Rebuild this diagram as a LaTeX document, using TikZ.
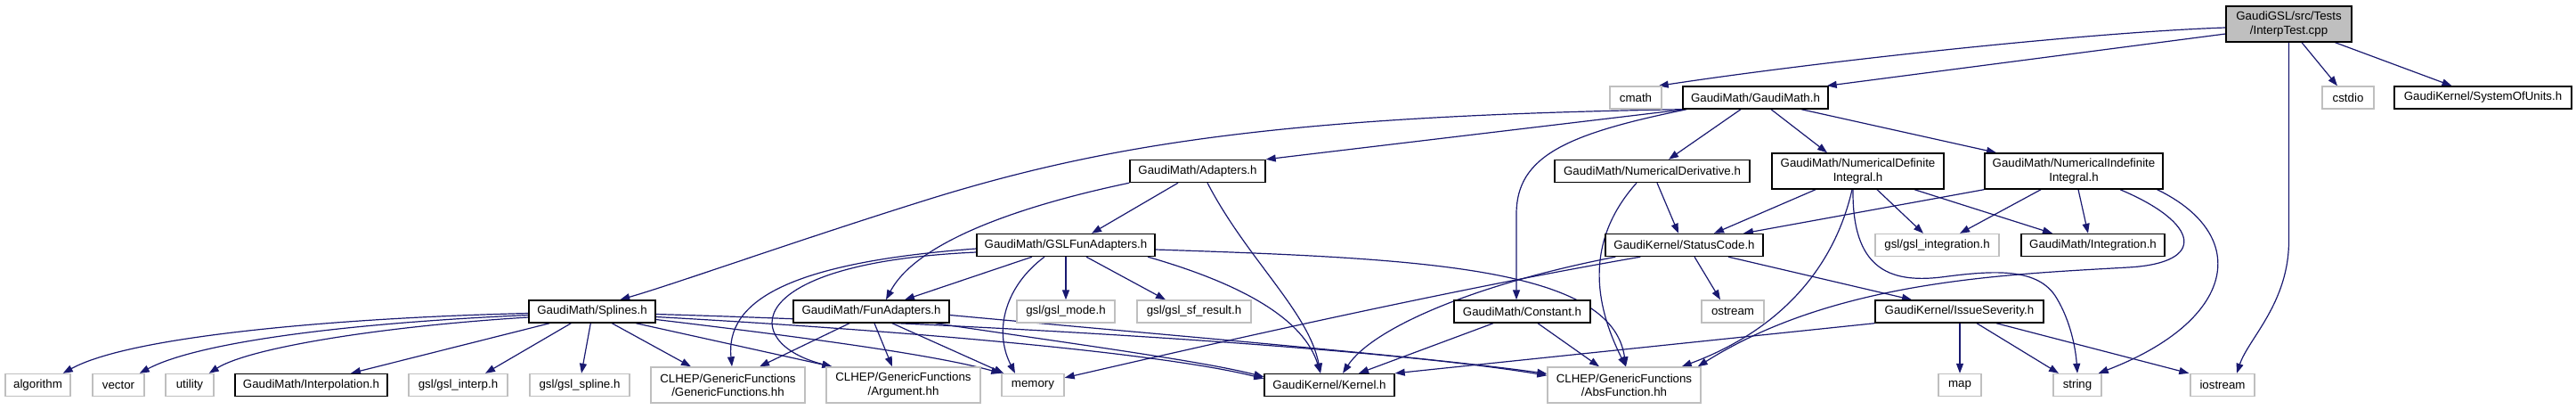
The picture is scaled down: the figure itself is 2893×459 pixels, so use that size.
\documentclass[tikz,border=0pt]{standalone}
\usepackage{fontspec}
\setmainfont{Liberation Sans}
\usetikzlibrary{arrows.meta}
\definecolor{edgec}{HTML}{191970}
\definecolor{grayb}{HTML}{BFBFBF}
\newcommand\labfont{\fontsize{13.3}{15.5}\selectfont}
\pgfdeclarelayer{bg}
\pgfsetlayers{bg,main}
\begin{document}
\begin{tikzpicture}[x=1pt,y=-1pt,
  nd/.style={draw=black, line width=1.4pt, fill=white, inner sep=0pt, font=\labfont, align=center, minimum height=25pt},
  xt/.style={nd, draw=grayb},
  two/.style={minimum height=40pt},
  dep/.style={draw=edgec, line width=1.2pt, -{Triangle[length=11pt,width=8pt]}}
]
\useasboundingbox (0,0) rectangle (2893,459);
% row 0
\node[nd, fill=grayb, two, minimum width=141pt] (top) at (2570.5,27) {GaudiGSL/src/Tests\\/InterpTest.cpp};
% row 1
\node[xt, minimum width=58pt] (cmath) at (1837,109.5) {cmath};
\node[nd, minimum width=163pt] (gm) at (1971.5,109.5) {GaudiMath/GaudiMath.h};
\node[xt, minimum width=58pt] (cstdio) at (2637,109.5) {cstdio};
\node[nd, minimum width=199pt] (sou) at (2788.5,109.5) {GaudiKernel/SystemOfUnits.h};
% row 2
\node[nd, minimum width=152pt] (ad) at (1345,192) {GaudiMath/Adapters.h};
\node[nd, minimum width=219pt] (nder) at (1855.5,192) {GaudiMath/NumericalDerivative.h};
\node[nd, two, minimum width=193pt] (ndi) at (2086.5,192) {GaudiMath/NumericalDefinite\\Integral.h};
\node[nd, two, minimum width=200pt] (nii) at (2329,192) {GaudiMath/NumericalIndefinite\\Integral.h};
% row 3
\node[nd, minimum width=200pt] (gsl) at (1197,275) {GaudiMath/GSLFunAdapters.h};
\node[nd, minimum width=177pt] (sc) at (1891.5,275) {GaudiKernel/StatusCode.h};
\node[xt, minimum width=139pt] (gint) at (2175.5,275) {gsl/gsl\_integration.h};
\node[nd, minimum width=161pt] (integ) at (2350.5,275) {GaudiMath/Integration.h};
% row 4
\node[nd, minimum width=142pt] (spl) at (665,349.5) {GaudiMath/Splines.h};
\node[nd, minimum width=175pt] (fa) at (978.5,349.5) {GaudiMath/FunAdapters.h};
\node[xt, minimum width=110pt] (gmode) at (1197,349.5) {gsl/gsl\_mode.h};
\node[xt, minimum width=128pt] (gsf) at (1341,349.5) {gsl/gsl\_sf\_result.h};
\node[nd, minimum width=153pt] (const) at (1709.5,349.5) {GaudiMath/Constant.h};
\node[xt, minimum width=70pt] (ostr) at (1946,349.5) {ostream};
\node[nd, minimum width=189pt] (iss) at (2200.5,349.5) {GaudiKernel/IssueSeverity.h};
% row 5
\node[xt, minimum width=73pt] (alg) at (42.5,432) {algorithm};
\node[xt, minimum width=58pt] (vec) at (133,432) {vector};
\node[xt, minimum width=54pt] (util) at (213,432) {utility};
\node[nd, minimum width=171pt] (interp) at (349.5,432) {GaudiMath/Interpolation.h};
\node[xt, minimum width=111pt] (ginterp) at (514.5,432) {gsl/gsl\_interp.h};
\node[xt, minimum width=112pt] (gspline) at (651,432) {gsl/gsl\_spline.h};
\node[xt, two, minimum width=173pt] (gf) at (817.5,432) {CLHEP/GenericFunctions\\/GenericFunctions.hh};
\node[xt, two, minimum width=173pt] (arg) at (1014.5,432) {CLHEP/GenericFunctions\\/Argument.hh};
\node[xt, minimum width=70pt] (mem) at (1160,432) {memory};
\node[nd, minimum width=146pt] (kern) at (1493,432) {GaudiKernel/Kernel.h};
\node[xt, two, minimum width=172pt] (abs) at (1824,432) {CLHEP/GenericFunctions\\/AbsFunction.hh};
\node[xt, minimum width=48pt] (map) at (2201,432) {map};
\node[xt, minimum width=54pt] (str) at (2333,432) {string};
\node[xt, minimum width=72pt] (ios) at (2496,432) {iostream};

\begin{pgfonlayer}{bg}
% top
\draw[dep] ([yshift=-4]top.west) .. controls (2350,36) and (2050,68) .. ([xshift=-4]cmath.north east);
\draw[dep] ([yshift=-11]top.west) -- ([xshift=-2]gm.north east);
\draw[dep] ([xshift=14.5]top.south) -- ([xshift=-12]cstdio.north);
\draw[dep] ([xshift=52]top.south) -- ([xshift=-35]sou.north);
\draw[dep] (top.south) -- (2570.5,270) .. controls (2570.5,340) and (2525,380) .. ([xshift=16]ios.north);
% gm
\draw[dep] (gm.south west) .. controls (1450,130) and (1250,160) .. (1048,222) .. controls (900,268) and (760,318) .. ([xshift=103]spl.north west);
\draw[dep] ([xshift=3]gm.south west) -- (ad.north east);
\draw[dep] ([xshift=-16.5]gm.south) -- ([xshift=18.5]nder.north);
\draw[dep] ([xshift=5]gm.south west) .. controls (1760,150) and (1703,175) .. (1703,240) -- ([xshift=-6.5]const.north);
\draw[dep] ([xshift=17.5]gm.south) -- ([xshift=-34.5]ndi.north);
\draw[dep] ([xshift=51.5]gm.south) -- ([xshift=-87]nii.north);
% ad
\draw[dep] ([xshift=-22]ad.south) -- ([xshift=29]gsl.north);
\draw[dep] (ad.south west) .. controls (1150,230) and (1030,270) .. ([xshift=16.5]fa.north);
\draw[dep] ([xshift=11]ad.south) .. controls (1400,290) and (1470,350) .. ([xshift=-10]kern.north);
% nder
\draw[dep] ([xshift=5.5]nder.south) -- ([xshift=-6.5]sc.north);
\draw[dep] ([xshift=-17.5]nder.south) .. controls (1780,270) and (1790,340) .. ([xshift=2]abs.north);
% ndi
\draw[dep] ([xshift=-47.5]ndi.south) -- ([xshift=33.5]sc.north);
\draw[dep] ([xshift=21.5]ndi.south) -- ([xshift=-15.5]gint.north);
\draw[dep] ([xshift=63.5]ndi.south) -- ([xshift=-45.5]integ.north);
\draw[dep] ([xshift=-6.5]ndi.south) .. controls (2060,300) and (2000,370) .. ([xshift=-22]abs.north east);
\draw[dep] ([xshift=-5.5]ndi.south) .. controls (2080,300) and (2120,318) .. (2180,311) .. controls (2240,303) and (2290,300) .. (2310,335) .. controls (2325,360) and (2331,390) .. (str.north);
% nii
\draw[dep] (nii.south west) -- ([xshift=66.5]sc.north);
\draw[dep] ([xshift=-37]nii.south) -- ([xshift=25.5]gint.north);
\draw[dep] ([xshift=5]nii.south) -- ([xshift=-5.5]integ.north);
\draw[dep] ([xshift=-7]nii.south east) .. controls (2530,265) and (2510,360) .. ([xshift=-4]str.north east);
\draw[dep] ([xshift=52]nii.south) .. controls (2470,250) and (2480,295) .. (2390,300) .. controls (2250,308) and (2060,315) .. ([xshift=-4]abs.north east);
% sc
\draw[dep] ([xshift=11.5]sc.south) -- ([xshift=-14]ostr.north);
\draw[dep] ([xshift=49.5]sc.south) -- ([xshift=-53.5]iss.north);
\draw[dep] ([xshift=12]sc.south west) .. controls (1650,320) and (1540,370) .. ([xshift=15]kern.north);
\draw[dep] ([xshift=40]sc.south west) .. controls (1600,330) and (1300,400) .. ([yshift=-5]mem.north east);
% iss
\draw[dep] (iss.south west) -- (kern.north east);
\draw[dep] ([xshift=0.5]iss.south) -- (map.north);
\draw[dep] ([xshift=19.5]iss.south) -- ([xshift=-21]str.north);
\draw[dep] ([xshift=41.5]iss.south) -- ([xshift=-1]ios.north west);
% gsl
\draw[dep] ([xshift=-38]gsl.south) -- ([xshift=37.5]fa.north);
\draw[dep] ([yshift=-4]gsl.west) .. controls (880,295) and (815,340) .. ([xshift=4.5]gf.north);
\draw[dep] ([yshift=-8]gsl.west) .. controls (830,295) and (830,385) .. ([xshift=-80]arg.north);
\draw[dep] ([xshift=-24]gsl.south) .. controls (1130,320) and (1115,370) .. ([xshift=-20]mem.north);
\draw[dep] (gsl.south) -- (gmode.north);
\draw[dep] ([xshift=23]gsl.south) -- ([xshift=-32]gsf.north);
\draw[dep] ([xshift=92]gsl.south) .. controls (1400,320) and (1465,360) .. ([xshift=-10]kern.north);
\draw[dep] ([yshift=-5]gsl.east) .. controls (1600,290) and (1810,300) .. ([xshift=2]abs.north);
% fa
\draw[dep] ([xshift=-24.5]fa.south) -- ([xshift=35.5]gf.north);
\draw[dep] ([xshift=3.5]fa.south) -- ([xshift=-12.5]arg.north);
\draw[dep] ([xshift=23.5]fa.south) -- ([xshift=3]mem.north west);
\draw[dep] ([xshift=-16]fa.south east) .. controls (1200,385) and (1350,405) .. ([yshift=-4]kern.north west);
\draw[dep] ([yshift=-4]fa.east) .. controls (1300,375) and (1600,400) .. ([yshift=-8]abs.north west);
% spl
\draw[dep] ([yshift=-2]spl.west) .. controls (400,356) and (150,375) .. ([xshift=-9]alg.north east);
\draw[dep] ([yshift=-4]spl.west) .. controls (380,363) and (220,385) .. ([xshift=-6]vec.north east);
\draw[dep] ([yshift=-6.5]spl.west) .. controls (430,366) and (280,390) .. ([xshift=-6]util.north east);
\draw[dep] ([xshift=24]spl.south west) -- ([xshift=44.5]interp.north);
\draw[dep] ([xshift=48]spl.south west) -- ([xshift=30.5]ginterp.north);
\draw[dep] ([xshift=70]spl.south west) -- ([xshift=2]gspline.north);
\draw[dep] ([xshift=94]spl.south west) -- ([xshift=-41.5]gf.north);
\draw[dep] ([xshift=121]spl.south west) -- ([xshift=7]arg.north west);
\draw[dep] ([yshift=-9]spl.east) .. controls (900,378) and (1050,398) .. (mem.north west);
\draw[dep] ([yshift=-6]spl.east) .. controls (1000,370) and (1300,395) .. ([yshift=-6]kern.north west);
\draw[dep] ([yshift=-3]spl.east) .. controls (1100,363) and (1550,390) .. ([yshift=-10]abs.north west);
% const
\draw[dep] ([xshift=-32.5]const.south) -- ([xshift=33]kern.north);
\draw[dep] ([xshift=17.5]const.south) -- ([xshift=-28]abs.north);
\end{pgfonlayer}
\end{tikzpicture}
\end{document}
